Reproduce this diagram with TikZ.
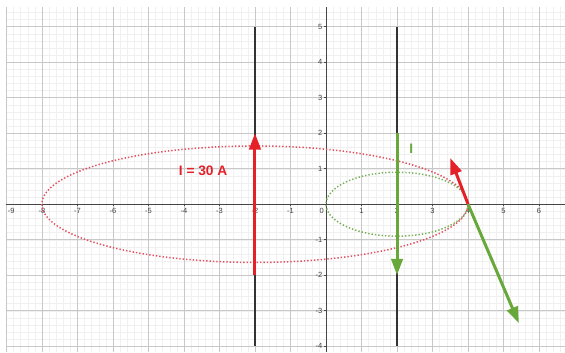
\documentclass[tikz,border=0pt]{standalone}
\usepackage{fontspec}
\setsansfont{Liberation Sans}
\usetikzlibrary{arrows.meta}

\definecolor{ggred}{RGB}{228,32,40}
\definecolor{ggredlight}{RGB}{226,80,96}
\definecolor{gggreen}{RGB}{104,168,58}
\definecolor{gggreenlight}{RGB}{120,176,88}
\definecolor{gridmajor}{RGB}{200,200,200}
\definecolor{gridminor}{RGB}{240,240,240}
\definecolor{axisgray}{RGB}{70,70,70}

\tikzset{
  vector/.style={line width=2.4pt, -{Triangle[length=4.6mm,width=3.2mm]}},
  fieldloop/.style={line width=1.2pt, dash pattern=on 1.1pt off 1.6pt},
  wire/.style={line width=1.3pt, color=black!80},
  ticklabel/.style={font=\sffamily\fontsize{6}{6}\selectfont, text=black!75, inner sep=1pt},
}

\begin{document}
\begin{tikzpicture}

\useasboundingbox (-9.18,-4.17) rectangle (6.73,5.75);

% grid
\draw [gridminor, line width=0.3pt, step=0.2] (-9,-4.17) grid (6.73,5.55);
\draw [gridmajor, line width=0.5pt, step=1] (-9,-4.17) grid (6.73,5.55);

% horizontal axis
\draw [axisgray, line width=0.7pt] (-9,0) -- (6.73,0);
% vertical axis
\draw [axisgray, line width=0.7pt] (0,-4.17) -- (0,5.55);

% labels
\foreach \x in {-8,-7,-6,-5,-4,-3,-2,-1,1,2,3,4,5,6}
  \draw [axisgray, line width=0.5pt] (\x,0) -- (\x,-0.06)
        node[ticklabel, anchor=north] (xl\x) {\x};
\node [ticklabel, anchor=north west] (xl-9) at (-9,-0.06) {-9};
\node [ticklabel, anchor=north east] (orig) at (-0.02,-0.06) {0};
\foreach \y in {-4,-3,-2,-1,1,2,3,4,5}
  \draw [axisgray, line width=0.5pt] (0,\y) -- (-0.06,\y)
        node[ticklabel, anchor=east] (yl\y) {\y};

% wires
\coordinate (lefttop) at (-2,5);
\coordinate (leftbot) at (-2,-4);
\coordinate (righttop) at (2,5);
\coordinate (rightbot) at (2,-4);
\draw [wire] (lefttop) -- (leftbot);
\draw [wire] (righttop) -- (rightbot);

% field loops
\draw [fieldloop, ggredlight] (-2,0) ellipse [x radius=6, y radius=1.64];
\draw [fieldloop, gggreenlight] (2,0) ellipse [x radius=2, y radius=0.9];

% currents
\coordinate (redtail) at (-2,-2);
\coordinate (redtip) at (-2,2);
\coordinate (greentail) at (2,2);
\coordinate (greentip) at (2,-2);
\draw [vector, ggred] (redtail) -- (redtip);
\draw [vector, gggreen] (greentail) -- (greentip);

% field vectors at (4,0)
\coordinate (P) at (4,0);
\coordinate (Bred) at (3.5,1.3);
\coordinate (Bgreen) at (5.43,-3.35);
\draw [vector, ggred] (P) -- (Bred);
\draw [vector, gggreen] (P) -- (Bgreen);

% current labels
\node [text=ggred, font=\sffamily\bfseries\fontsize{11}{12}\selectfont] (redlabel) at (-3.46,0.93) {I = 30 A};
\node [text=gggreen, font=\sffamily\bfseries\fontsize{11}{12}\selectfont] (greenlabel) at (2.4,1.55) {I};

\end{tikzpicture}
\end{document}
